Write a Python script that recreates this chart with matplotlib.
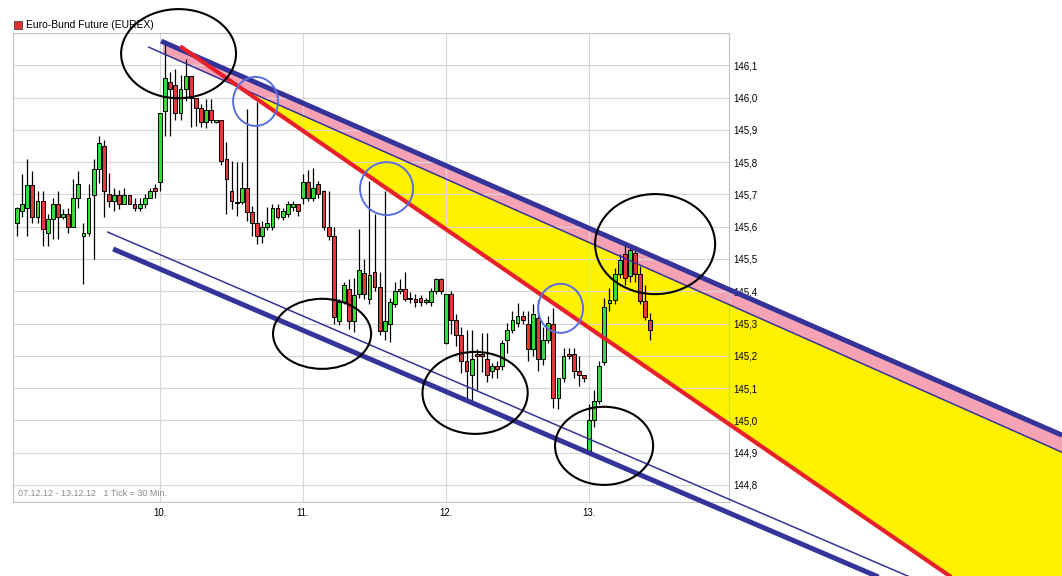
import matplotlib
matplotlib.use("Agg")
import matplotlib.pyplot as plt
from matplotlib.patches import Ellipse, Rectangle, Polygon
import numpy as np

plt.rcParams['font.family'] = ['Liberation Sans', 'DejaVu Sans']

# 30 min candles, 07.12.12 - 13.12.12 (bar index, 28 bars per day)
opens = [145.610, 145.650, 145.659, 145.729, 145.631, 145.680, 145.581, 145.623, 145.671, 145.631,
         145.640, 145.600, 145.690, 145.571, 145.581, 145.699, 145.779, 145.849, 145.700, 145.679,
         145.697, 145.671, 145.697, 145.671, 145.659, 145.671, 145.690, 145.720,
         145.739, 145.958, 146.049, 146.039, 145.952, 146.028, 146.067, 146.000, 145.969, 145.923,
         145.961, 145.923, 145.930, 145.811, 145.711, 145.672, 145.675, 145.721, 145.644, 145.611,
         145.571, 145.600, 145.600, 145.659, 145.630, 145.640, 145.660, 145.671,
         145.690, 145.739, 145.690, 145.731, 145.710, 145.600, 145.571, 145.309, 145.366, 145.407,
         145.309, 145.390, 145.456, 145.376, 145.461, 145.414, 145.278, 145.299, 145.359, 145.400,
         145.407, 145.376, 145.376, 145.378, 145.368, 145.368, 145.400, 145.438,
         145.240, 145.390, 145.312, 145.263, 145.183, 145.142, 145.205, 145.205, 145.190, 145.152,
         145.168, 145.168, 145.248, 145.281, 145.302, 145.323, 145.300, 145.220, 145.317, 145.190,
         145.250, 145.300, 145.070, 145.132, 145.205, 145.207, 145.152, 145.142,
         144.900, 145.000, 145.059, 145.180, 145.362, 145.372, 145.452, 145.514, 145.446, 145.519,
         145.452, 145.371, 145.312]
highs = [145.660, 145.762, 145.810, 145.772, 145.712, 145.712, 145.638, 145.690, 145.712, 145.654,
         145.659, 145.748, 145.772, 145.612, 145.731, 145.810, 145.880, 145.870, 145.767, 145.720,
         145.715, 145.720, 145.697, 145.690, 145.690, 145.700, 145.720, 145.731,
         145.951, 146.172, 146.079, 146.088, 146.070, 146.119, 146.067, 146.000, 145.980, 145.995,
         145.995, 145.930, 145.930, 145.861, 145.804, 145.799, 145.800, 145.964, 145.665, 145.985,
         145.618, 145.660, 145.669, 145.669, 145.659, 145.679, 145.680, 145.671,
         145.762, 145.777, 145.782, 145.740, 145.715, 145.710, 145.600, 145.376, 145.428, 145.438,
         145.440, 145.593, 145.500, 145.742, 145.640, 145.460, 145.711, 145.380, 145.428, 145.438,
         145.459, 145.397, 145.390, 145.387, 145.380, 145.410, 145.440, 145.440,
         145.390, 145.400, 145.328, 145.290, 145.280, 145.280, 145.220, 145.270, 145.270, 145.178,
         145.183, 145.250, 145.302, 145.338, 145.364, 145.338, 145.338, 145.359, 145.374, 145.290,
         145.323, 145.348, 145.132, 145.225, 145.225, 145.225, 145.200, 145.142,
         145.050, 145.095, 145.183, 145.380, 145.410, 145.472, 145.514, 145.540, 145.545, 145.534,
         145.478, 145.420, 145.333]
lows = [145.572, 145.630, 145.571, 145.612, 145.612, 145.540, 145.540, 145.561, 145.561, 145.623,
        145.581, 145.600, 145.659, 145.422, 145.571, 145.501, 145.736, 145.630, 145.660, 145.648,
        145.655, 145.671, 145.671, 145.648, 145.648, 145.659, 145.690, 145.690,
        145.711, 145.881, 145.881, 145.930, 145.930, 145.990, 145.910, 145.912, 145.910, 145.907,
        145.920, 145.920, 145.790, 145.640, 145.654, 145.633, 145.670, 145.618, 145.571, 145.545,
        145.550, 145.590, 145.590, 145.623, 145.620, 145.630, 145.650, 145.633,
        145.670, 145.680, 145.680, 145.690, 145.590, 145.560, 145.299, 145.294, 145.360, 145.283,
        145.273, 145.380, 145.376, 145.360, 145.400, 145.263, 145.250, 145.242, 145.350, 145.390,
        145.370, 145.365, 145.350, 145.355, 145.360, 145.355, 145.390, 145.390,
        145.235, 145.266, 145.230, 145.147, 145.061, 145.060, 145.095, 145.150, 145.120, 145.130,
        145.130, 145.157, 145.209, 145.270, 145.290, 145.300, 145.183, 145.200, 145.152, 145.170,
        145.240, 145.039, 145.034, 145.120, 145.190, 145.130, 145.106, 145.120,
        144.895, 144.980, 145.050, 145.170, 145.338, 145.360, 145.440, 145.420, 145.430, 145.430,
        145.360, 145.310, 145.250]
closes = [145.659, 145.671, 145.729, 145.631, 145.680, 145.592, 145.623, 145.671, 145.631, 145.640,
          145.600, 145.690, 145.731, 145.581, 145.690, 145.779, 145.860, 145.710, 145.679, 145.697,
          145.671, 145.697, 145.671, 145.659, 145.671, 145.690, 145.712, 145.712,
          145.951, 146.060, 146.028, 145.952, 146.028, 146.067, 146.000, 145.969, 145.923, 145.961,
          145.930, 145.930, 145.804, 145.749, 145.680, 145.674, 145.721, 145.644, 145.611, 145.571,
          145.600, 145.611, 145.659, 145.630, 145.648, 145.671, 145.671, 145.648,
          145.739, 145.690, 145.721, 145.700, 145.600, 145.571, 145.319, 145.366, 145.418, 145.309,
          145.387, 145.466, 145.390, 145.449, 145.412, 145.278, 145.309, 145.366, 145.400, 145.407,
          145.376, 145.378, 145.368, 145.368, 145.370, 145.400, 145.438, 145.400,
          145.390, 145.312, 145.263, 145.183, 145.152, 145.190, 145.200, 145.200, 145.142, 145.168,
          145.160, 145.240, 145.281, 145.312, 145.323, 145.312, 145.220, 145.328, 145.190, 145.250,
          145.302, 145.070, 145.132, 145.200, 145.200, 145.152, 145.142, 145.132,
          145.000, 145.059, 145.167, 145.351, 145.372, 145.452, 145.498, 145.441, 145.529, 145.452,
          145.371, 145.320, 145.281]

day_ticks = [28, 56, 84, 112]
day_labels = ['10.', '11.', '12.', '13.']
price_ticks = [144.8, 144.9, 145.0, 145.1, 145.2, 145.3, 145.4, 145.5, 145.6, 145.7, 145.8, 145.9, 146.0, 146.1]

# hand drawn channel lines (bar index, price)
thick_top = [(28.20, 146.175), (204.62, 144.954)]
thin_top = [(25.65, 146.157), (204.62, 144.901)]
red_line = [(31.92, 146.159), (204.62, 144.278)]
thin_low = [(17.62, 145.584), (204.62, 144.312)]
thick_low = [(18.80, 145.531), (204.62, 144.271)]

# ellipses: (bar index, price, width in bars, height in price)
black_rings = [(31.62, 146.136, 22.5, 0.276), (59.72, 145.268, 19.2, 0.217),
               (89.68, 145.085, 20.6, 0.254), (114.94, 144.921, 19.2, 0.242),
               (124.93, 145.546, 23.5, 0.310)]
blue_rings = [(46.70, 145.988, 8.8, 0.152), (72.35, 145.718, 10.4, 0.164),
              (106.42, 145.347, 8.8, 0.152)]


def line_at(pts, i):
    (x0, y0), (x1, y1) = pts
    return y0 + (y1 - y0) * (i - x0) / (x1 - x0)


fig = plt.figure(figsize=(10.62, 5.76), dpi=100)
ax = fig.add_axes([13 / 1062, 74 / 576, 716 / 1062, 469 / 576])
ax.set_xlim(-0.8, 139.4)
ax.set_ylim(144.747, 146.2)

# grid + frame
ax.set_axisbelow(True)
ax.grid(True, color='#d6d6d6', lw=0.8)
for s in ax.spines.values():
    s.set_color('#c4c4c4')
    s.set_linewidth(0.8)
ax.set_xticks(day_ticks)
ax.set_xticklabels(day_labels)
ax.yaxis.tick_right()
ax.set_yticks(price_ticks)
ax.set_yticklabels([f'{v:.1f}'.replace('.', ',') for v in price_ticks])
ax.tick_params(axis='both', length=0, labelsize=7, colors='black')
ax.tick_params(axis='x', pad=4)
ax.tick_params(axis='y', pad=3)

# fills (pink band, yellow wedge)
i_end = thick_top[1][0]
i_pink = 28.6
pink = Polygon([(i_pink, line_at(thick_top, i_pink)), (i_end, line_at(thick_top, i_end)),
                (i_end, line_at(thin_top, i_end)), (i_pink, line_at(thin_top, i_pink))],
               closed=True, facecolor='#f5a3b4', edgecolor='none', zorder=0.2, clip_on=False)
ax.add_patch(pink)
s1 = (thin_top[1][1] - thin_top[0][1]) / (thin_top[1][0] - thin_top[0][0])
s2 = (red_line[1][1] - red_line[0][1]) / (red_line[1][0] - red_line[0][0])
i_x = (red_line[0][1] - thin_top[0][1] + s1 * thin_top[0][0] - s2 * red_line[0][0]) / (s1 - s2)
yellow = Polygon([(i_x, line_at(thin_top, i_x)), (i_end, line_at(thin_top, i_end)),
                  (i_end, line_at(red_line, i_end))],
                 closed=True, facecolor='#fff200', edgecolor='none', zorder=0.2, clip_on=False)
ax.add_patch(yellow)

# candles
idx = np.arange(len(opens))
o = np.array(opens)
c = np.array(closes)
up = c >= o
ax.vlines(idx, lows, highs, color='black', lw=0.9, zorder=2)
body_h = np.maximum(np.abs(c - o), 0.004)
ax.bar(idx, body_h, bottom=np.minimum(o, c), width=0.75,
       color=np.where(up, '#36dc36', '#e13a3a'), edgecolor='black', linewidth=0.7, zorder=3)

# channel lines
for pts, col, lw in [(thick_top, '#333399', 3.6), (thin_top, '#333399', 1.1),
                     (red_line, '#e8202a', 3.0), (thin_low, '#333399', 1.1),
                     (thick_low, '#333399', 3.6)]:
    ax.plot([pts[0][0], pts[1][0]], [pts[0][1], pts[1][1]], color=col, lw=lw,
            solid_capstyle='butt', zorder=4, clip_on=False)

for (ci, cp, w, h) in black_rings:
    ax.add_patch(Ellipse((ci, cp), w, h, fill=False, edgecolor='black', lw=1.5,
                         zorder=5, clip_on=False))
for (ci, cp, w, h) in blue_rings:
    ax.add_patch(Ellipse((ci, cp), w, h, fill=False, edgecolor='#5a6ee0', lw=1.4,
                         zorder=5, clip_on=False))

ax.text(0.007, 0.018, '07.12.12 - 13.12.12   1 Tick = 30 Min.', transform=ax.transAxes,
        fontsize=6.5, color='#8a8a8a', va='center', ha='left')

# legend style title
fig.patches.append(Rectangle((14 / 1062, 1 - 29 / 576), 8 / 1062, 8 / 576, transform=fig.transFigure,
                             facecolor='#e03030', edgecolor='#404040', lw=0.6))
fig.text(26 / 1062, 1 - 25 / 576, 'Euro-Bund Future (EUREX)', fontsize=7.5, va='center', ha='left')

fig.savefig('out.png', dpi=100)
